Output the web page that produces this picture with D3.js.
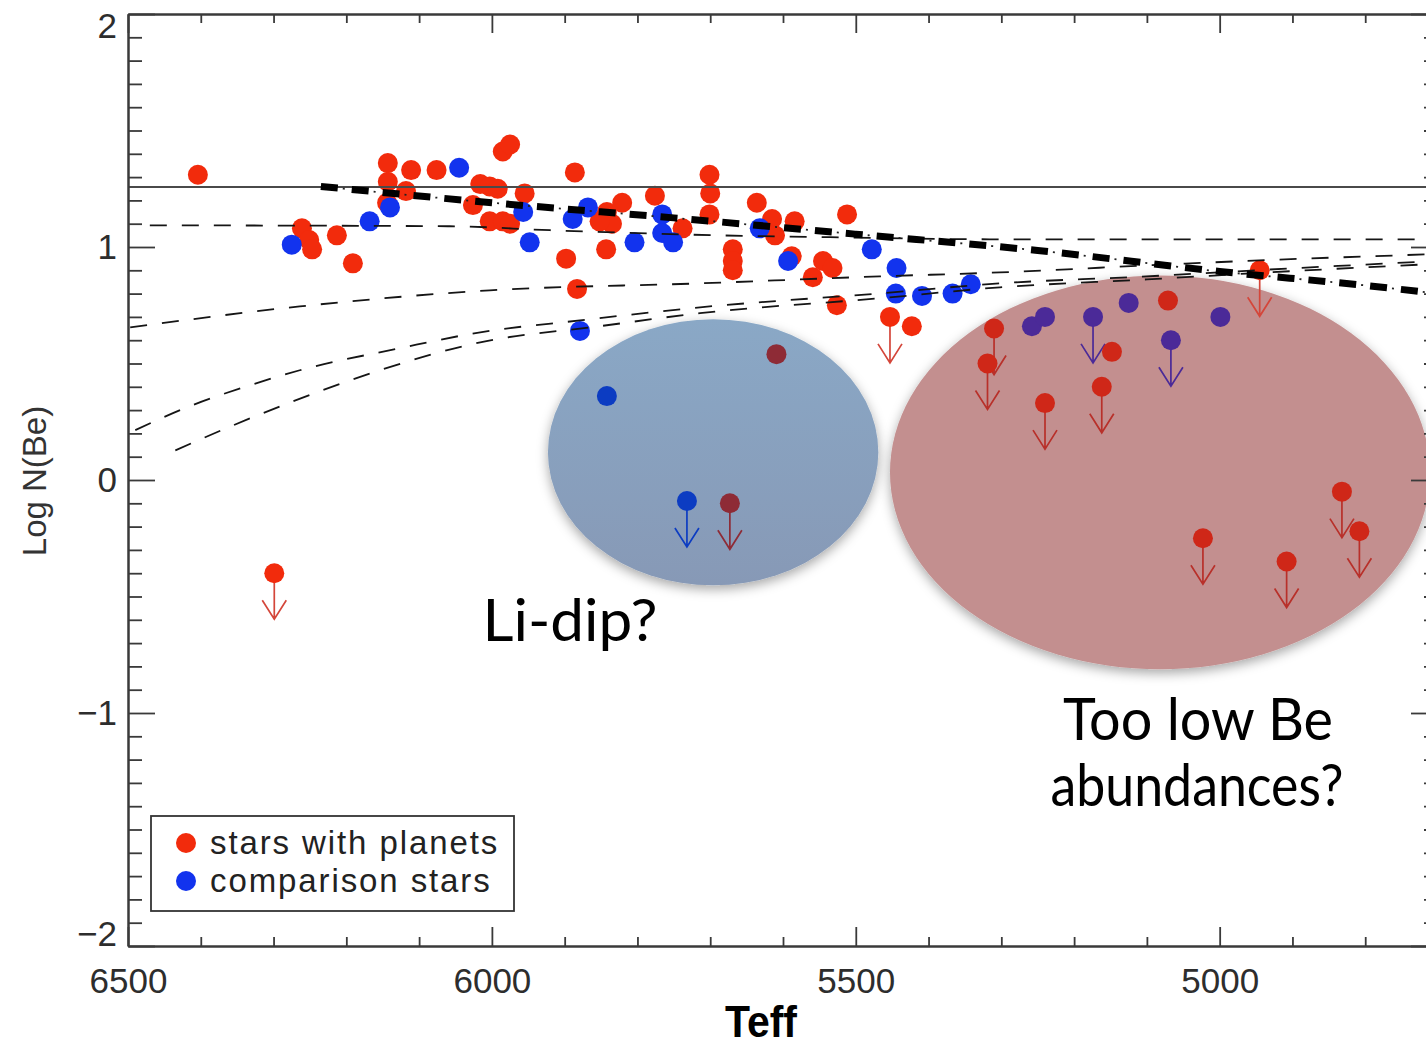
<!DOCTYPE html>
<html>
<head>
<meta charset="utf-8">
<script src="https://cdn.jsdelivr.net/npm/d3@7"></script>
<style>
  html, body { margin: 0; padding: 0; background: #fff; overflow: hidden; }
  svg { display: block; }
</style>
</head>
<body>
<div id="chart"></div>
<script>
// Be abundances vs effective temperature
// stars with planets, detections
const hostTeff = [6404, 6143, 6143, 6111, 6076, 6118, 6144, 6261, 6251, 6247, 6213, 6191,
  6016, 6003, 5992, 6026, 6003, 5985, 5975, 5985, 5975, 5955, 5886, 5842, 5821, 5835, 5852,
  5898, 5883, 5843, 5776, 5738, 5701, 5700, 5701, 5669, 5669, 5669, 5636, 5615, 5611, 5584,
  5588, 5545, 5532, 5559, 5512, 5526, 5423, 5071, 5148, 5609];
const hostBe = [1.31, 1.36, 1.28, 1.33, 1.33, 1.24, 1.19, 1.08, 1.03, 0.99, 1.05, 0.93,
  1.27, 1.26, 1.25, 1.18, 1.11, 1.11, 1.10, 1.41, 1.44, 1.23, 1.32, 1.15, 1.19, 1.10, 1.11,
  0.95, 0.82, 0.99, 1.22, 1.08, 1.31, 1.23, 1.14, 0.99, 0.94, 0.90, 1.19, 1.12, 1.05, 1.11,
  0.96, 0.94, 0.91, 0.87, 1.14, 0.75, 0.66, 0.77, 0.55, 0.54];

// stars with planets, upper limits
const hostLimitTeff = [6299, 5453, 5673, 5310, 5319, 5240, 5162, 4945, 5023, 4908, 4832, 4808];
const hostLimitBe = [-0.40, 0.70, -0.10, 0.65, 0.50, 0.33, 0.40, 0.90, -0.25, -0.35, -0.05, -0.22];

// comparison stars, detections
const compTeff = [6045, 6140, 6168, 6275, 5957, 5948, 5889, 5868, 5804, 5766, 5766, 5751,
  5632, 5593, 5478, 5444, 5445, 5409, 5367, 5342, 5879, 5842, 5258, 5240, 5125, 4999];
const compBe = [1.34, 1.17, 1.11, 1.01, 1.15, 1.02, 1.12, 1.17, 1.02, 1.14, 1.06, 1.02,
  1.08, 0.94, 0.99, 0.91, 0.80, 0.79, 0.80, 0.84, 0.64, 0.36, 0.66, 0.70, 0.76, 0.70];

// comparison stars, upper limits
const compLimitTeff = [5732, 5174, 5067];
const compLimitBe = [-0.09, 0.70, 0.60];

// depletion models (dashed), [Teff, log N(Be)]
const modelA = [[6470, 1.093], [6058, 1.089], [5920, 1.072], [5687, 1.050], [5536, 1.042], [5302, 1.033], [4700, 1.033]];
const modelB = [[6497, 0.655], [6264, 0.745], [6003, 0.814], [5714, 0.844], [5467, 0.874], [5302, 0.891], [5100, 0.921], [5010, 0.934], [4700, 0.970]];
const modelC = [[6490, 0.214], [6419, 0.312], [6332, 0.407], [6264, 0.471], [6126, 0.566], [6016, 0.634], [5879, 0.685], [5714, 0.741], [5467, 0.801], [5302, 0.844], [5100, 0.874], [4904, 0.908], [4700, 0.940]];
const modelD = [[6435, 0.127], [6356, 0.234], [6277, 0.333], [6154, 0.471], [6016, 0.591], [5852, 0.660], [5714, 0.716], [5467, 0.780], [5302, 0.827], [5100, 0.861], [4904, 0.896], [4700, 0.928]];
// thick dash-dot trend
const trend = [[6235, 1.26], [6000, 1.19], [5750, 1.125], [5500, 1.055], [5250, 0.985], [5000, 0.895], [4800, 0.835], [4700, 0.80]];
// meteoritic level (solid)
const meteoritic = 1.257;

const xMajorTicks = [6500, 6000, 5500, 5000];
const yMajorTicks = [-2, -1, 0, 1, 2];
const legendLabels = ["stars with planets", "comparison stars"];

const width = 1426, height = 1051;

const x = d3.scaleLinear().domain([6500, 4700]).range([128, 1438]);
const y = d3.scaleLinear().domain([-2, 2]).range([946, 14]);

const svg = d3.select("#chart").append("svg")
  .attr("width", width)
  .attr("height", height)
  .attr("viewBox", [0, 0, width, height]);

const defs = svg.append("defs");
const shadow = defs.append("filter").attr("id", "soft-shadow")
  .attr("x", "-15%").attr("y", "-15%").attr("width", "130%").attr("height", "140%");
shadow.append("feDropShadow")
  .attr("dx", 0).attr("dy", 4).attr("stdDeviation", 6)
  .attr("flood-color", "#000").attr("flood-opacity", 0.35);

const blueGrad = defs.append("linearGradient").attr("id", "blue-fill")
  .attr("x1", 0).attr("y1", 0).attr("x2", 0).attr("y2", 1);
blueGrad.append("stop").attr("offset", "0%").attr("stop-color", "#8aa8c6");
blueGrad.append("stop").attr("offset", "100%").attr("stop-color", "#8799b6");

// highlighted zones (in data units)
const zones = [
  { name: "blue", teff: 5696, be: 0.119, dTeff: 227, dBe: 0.571, fill: "url(#blue-fill)" },
  { name: "red", teff: 5082, be: 0.033, dTeff: 371, dBe: 0.845, fill: "#c38f8f" }
].map(z => ({
  ...z,
  cx: x(z.teff),
  cy: y(z.be),
  rx: Math.abs(x(z.teff + z.dTeff) - x(z.teff)),
  ry: Math.abs(y(z.be + z.dBe) - y(z.be))
}));

svg.append("g").selectAll("ellipse")
  .data(zones)
  .join("ellipse")
  .attr("cx", d => d.cx)
  .attr("cy", d => d.cy)
  .attr("rx", d => d.rx)
  .attr("ry", d => d.ry)
  .attr("fill", d => d.fill)
  .attr("filter", "url(#soft-shadow)");

function zoneOf(px, py) {
  const z = zones.find(z => ((px - z.cx) / z.rx) ** 2 + ((py - z.cy) / z.ry) ** 2 < 1);
  return z ? z.name : "none";
}

const dotColors = {
  host: { none: "#f22b0c", red: "#cf2718", blue: "#8e2b36" },
  comp: { none: "#1233ee", red: "#4b2a98", blue: "#0c3cc2" }
};
const arrowColors = {
  host: { none: "#d4463a", red: "#b8302a", blue: "#8e2b36" },
  comp: { none: "#1233ee", red: "#4b2a98", blue: "#0c3cc2" }
};

const toPoints = (teffs, bes, kind, limit) => teffs.map((t, i) => {
  const px = x(t), py = y(bes[i]);
  return { px, py, kind, limit, zone: zoneOf(px, py) };
});

const hostPts = toPoints(hostTeff, hostBe, "host", false);
const hostLim = toPoints(hostLimitTeff, hostLimitBe, "host", true);
const compPts = toPoints(compTeff, compBe, "comp", false);
const compLim = toPoints(compLimitTeff, compLimitBe, "comp", true);

// upper-limit arrows
const arrows = svg.append("g").attr("fill", "none").attr("stroke-width", 1.7);
arrows.selectAll("path")
  .data(hostLim.concat(compLim))
  .join("path")
  .attr("stroke", d => arrowColors[d.kind][d.zone])
  .attr("d", d => `M${d.px},${d.py}V${d.py + 46}M${d.px - 12},${d.py + 27}L${d.px},${d.py + 46}L${d.px + 12},${d.py + 27}`);

// dots
const dots = svg.append("g");
dots.selectAll("circle.host")
  .data(hostPts.concat(hostLim))
  .join("circle")
  .attr("class", "host")
  .attr("cx", d => d.px)
  .attr("cy", d => d.py)
  .attr("r", 10)
  .attr("fill", d => dotColors.host[d.zone]);
dots.selectAll("circle.comp")
  .data(compPts.concat(compLim))
  .join("circle")
  .attr("class", "comp")
  .attr("cx", d => d.px)
  .attr("cy", d => d.py)
  .attr("r", 10)
  .attr("fill", d => dotColors.comp[d.zone]);

// lines
const line = d3.line()
  .x(d => x(d[0]))
  .y(d => y(d[1]))
  .curve(d3.curveMonotoneX);

const lines = svg.append("g").attr("fill", "none");

lines.append("line")
  .attr("x1", x(6500)).attr("x2", x(4700))
  .attr("y1", y(meteoritic)).attr("y2", y(meteoritic))
  .attr("stroke", "#4a4a4a")
  .attr("stroke-width", 2);

lines.selectAll("path.model")
  .data([modelA, modelB, modelC, modelD])
  .join("path")
  .attr("class", "model")
  .attr("d", line)
  .attr("stroke", "#151515")
  .attr("stroke-width", 1.8)
  .attr("stroke-dasharray", "17 15");

lines.append("path")
  .attr("d", line(trend))
  .attr("stroke", "#000")
  .attr("stroke-width", 7)
  .attr("stroke-dasharray", "17 14");
lines.append("path")
  .attr("d", line(trend))
  .attr("stroke", "#222")
  .attr("stroke-width", 1.8)
  .attr("stroke-dasharray", "0 22 2 7");

// axes
const tickStyle = g => {
  g.select(".domain").attr("stroke", "#3a3a3a").attr("stroke-width", 2);
  g.selectAll(".tick line").attr("stroke", "#3a3a3a").attr("stroke-width", 1.8);
};
const minorX = d3.range(6500, 4699, -100).filter(v => v % 500 !== 0);
const minorY = d3.range(-20, 21).filter(v => v % 10 !== 0).map(v => v / 10);

const frame = svg.append("g");
[["bottom", 946], ["top", 14]].forEach(([side, yPos]) => {
  const make = side === "bottom" ? d3.axisTop : d3.axisBottom;
  frame.append("g").attr("transform", `translate(0,${yPos})`)
    .call(make(x).tickValues(minorX).tickSize(9).tickSizeOuter(0).tickFormat(""))
    .call(tickStyle);
  frame.append("g").attr("transform", `translate(0,${yPos})`)
    .call(make(x).tickValues(xMajorTicks).tickSize(19).tickSizeOuter(0).tickFormat(""))
    .call(tickStyle);
});
[["left", 128], ["right", 1438]].forEach(([side, xPos]) => {
  const make = side === "left" ? d3.axisRight : d3.axisLeft;
  frame.append("g").attr("transform", `translate(${xPos},0)`)
    .call(make(y).tickValues(minorY).tickSize(14).tickSizeOuter(0).tickFormat(""))
    .call(tickStyle);
  frame.append("g").attr("transform", `translate(${xPos},0)`)
    .call(make(y).tickValues(yMajorTicks).tickSize(27).tickSizeOuter(0).tickFormat(""))
    .call(tickStyle);
});

const labelFont = "'Liberation Sans', Arial, sans-serif";

svg.append("g").attr("transform", "translate(0,946)")
  .call(d3.axisBottom(x).tickValues(xMajorTicks).tickSize(0).tickPadding(22).tickFormat(d3.format("d")))
  .call(g => g.select(".domain").remove())
  .call(g => g.selectAll("text")
    .attr("font-family", labelFont)
    .attr("font-size", 35)
    .attr("fill", "#2d2d2d"));

svg.append("g").attr("transform", "translate(128,0)")
  .call(d3.axisLeft(y).tickValues(yMajorTicks).tickSize(0).tickPadding(11).tickFormat(d3.format("d")))
  .call(g => g.select(".domain").remove())
  .call(g => g.selectAll("text")
    .attr("font-family", labelFont)
    .attr("font-size", 35)
    .attr("fill", "#2d2d2d")
    .attr("dy", d => d === 2 ? "0.66em" : d === -2 ? "-0.02em" : "0.32em"));

svg.append("text")
  .attr("transform", "translate(34,481) rotate(-90)")
  .attr("text-anchor", "middle")
  .attr("dominant-baseline", "central")
  .attr("font-family", labelFont)
  .attr("font-size", 33)
  .attr("fill", "#333")
  .text("Log N(Be)");

svg.append("text")
  .attr("x", 761)
  .attr("y", 1037)
  .attr("text-anchor", "middle")
  .attr("font-family", "'Liberation Sans Narrow', 'Arial Narrow', 'Liberation Sans', sans-serif")
  .attr("font-weight", "bold")
  .attr("font-size", 44)
  .attr("textLength", 72)
  .attr("lengthAdjust", "spacingAndGlyphs")
  .attr("fill", "#000")
  .text("Teff");

// annotations
const noteFont = "Lato, 'Open Sans', sans-serif";
const notes = [
  { text: "Li-dip?", x: 570, y: 641, w: 175 },
  { text: "Too low Be", x: 1198, y: 740, w: 270 },
  { text: "abundances?", x: 1197, y: 806, w: 293 }
];
svg.append("g").selectAll("text")
  .data(notes)
  .join("text")
  .attr("x", d => d.x)
  .attr("y", d => d.y)
  .attr("text-anchor", "middle")
  .attr("font-family", noteFont)
  .attr("font-size", 58)
  .attr("textLength", d => d.w)
  .attr("lengthAdjust", "spacingAndGlyphs")
  .attr("fill", "#000")
  .text(d => d.text);

// legend
const legend = svg.append("g");
legend.append("rect")
  .attr("x", 151).attr("y", 816)
  .attr("width", 363).attr("height", 95)
  .attr("fill", "#fff")
  .attr("stroke", "#333")
  .attr("stroke-width", 1.8);
const legendColors = [dotColors.host.none, dotColors.comp.none];
legendLabels.forEach((label, i) => {
  const cy = 843 + i * 38;
  legend.append("circle").attr("cx", 186).attr("cy", cy).attr("r", 10).attr("fill", legendColors[i]);
  legend.append("text")
    .attr("x", 210).attr("y", cy + 11)
    .attr("font-family", labelFont)
    .attr("font-size", 33)
    .attr("letter-spacing", 1.9)
    .attr("fill", "#222")
    .text(label);
});
</script>
</body>
</html>
